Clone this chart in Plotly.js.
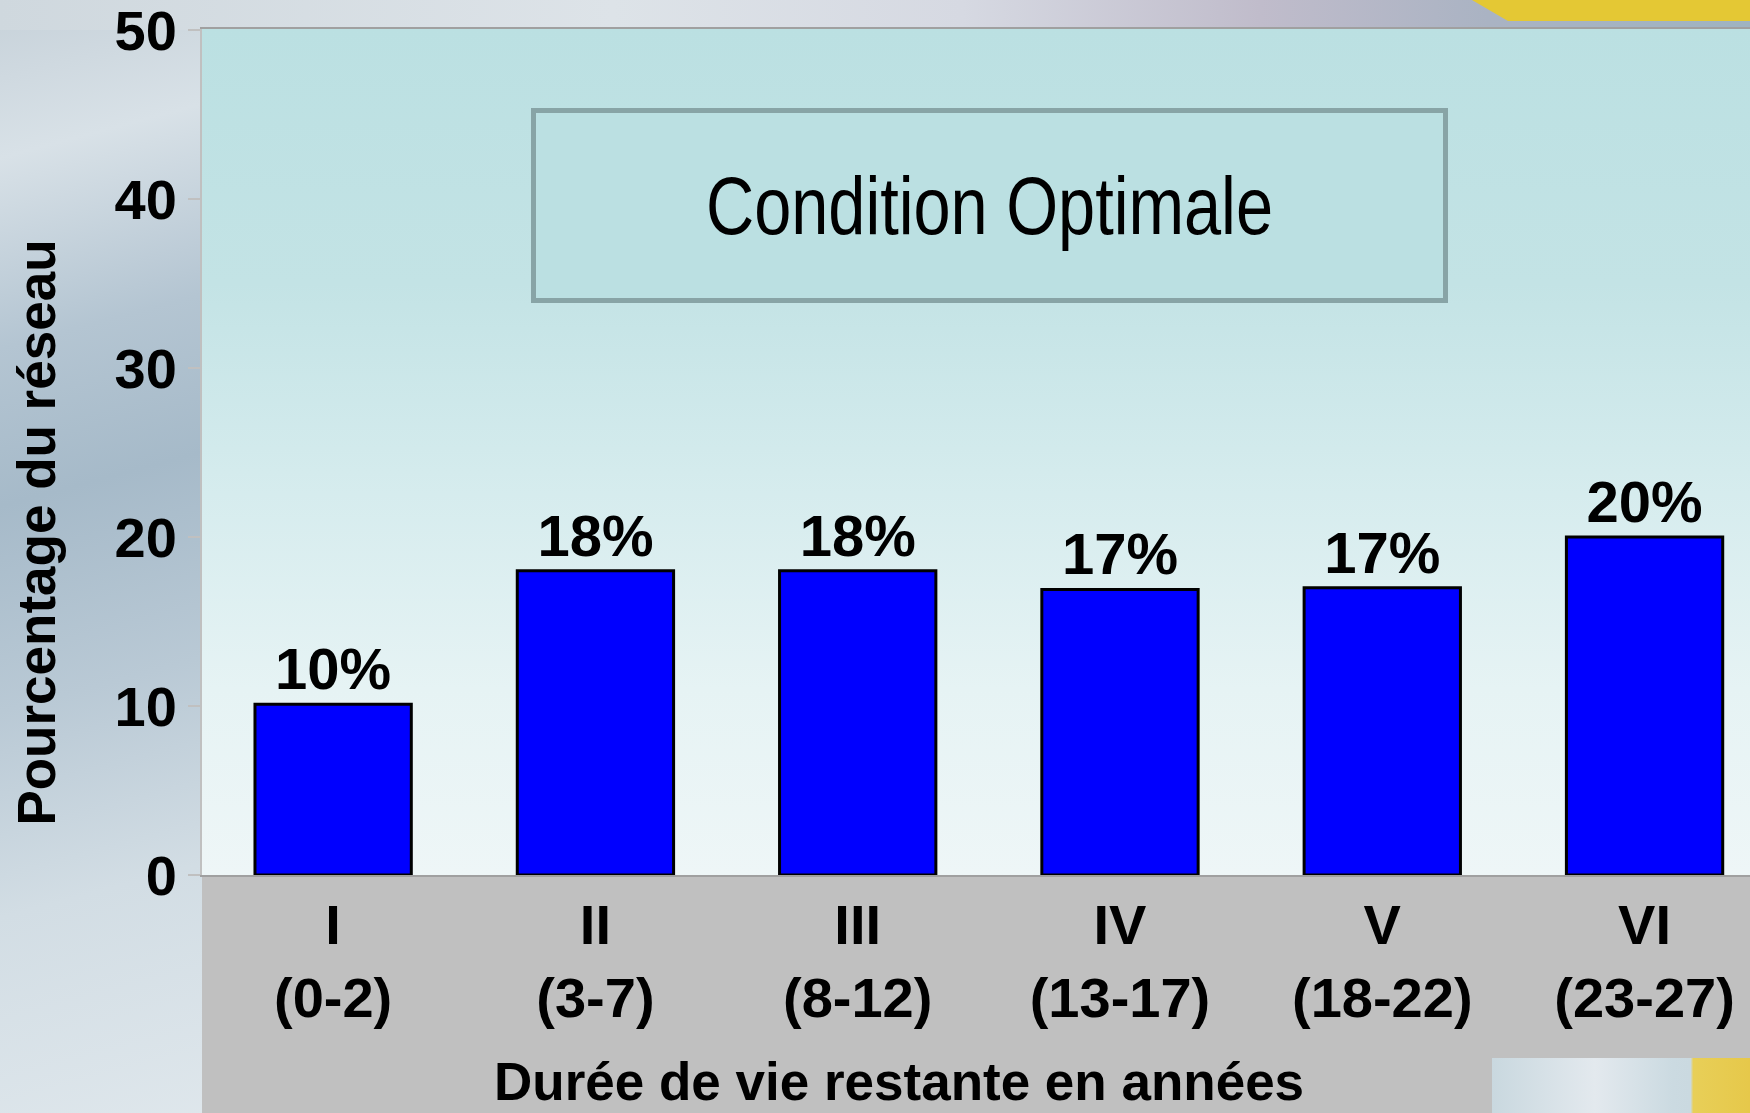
<!DOCTYPE html>
<html>
<head>
<meta charset="utf-8">
<script src="https://cdn.plot.ly/plotly-3.0.1.min.js"></script>
<style>
  html, body { margin: 0; padding: 0; }
  #wrap { position: relative; width: 1750px; height: 1113px; overflow: hidden;
    background: linear-gradient(165deg, #c6d1d9 0%, #d8e1e7 10%, #b4c5d2 22%, #a6bac9 32%, #b9c9d5 45%, #d2dde4 58%, #dfe7ec 75%, #e3eaee 100%); }
  #topstrip { position: absolute; left: 0; top: 0; width: 1750px; height: 30px;
    background: linear-gradient(to right, #cfd8de 0%, #dde3e8 35%, #d6d9e2 55%, #c0bccb 72%, #aab3c3 85%, #9fb3c0 100%); }
  #yellow { position: absolute; left: 1460px; top: 0; width: 290px; height: 21px; background: #e4c834;
    clip-path: polygon(12px 0, 290px 0, 290px 21px, 48px 21px); }
  #plotbg { position: absolute; left: 202px; top: 29px; width: 1548px; height: 846px;
    background: linear-gradient(to bottom, #bbe0e2 0%, #c3e3e5 30%, #d6ecee 55%, #e6f3f4 78%, #eef6f7 100%); }
  #band { position: absolute; left: 202px; top: 875px; width: 1548px; height: 238px; background: #c0c0c0; }
  #corner { position: absolute; left: 1492px; top: 1058px; width: 258px; height: 55px;
    background: linear-gradient(to right, #c9d8df 0%, #e3e9ee 40%, #cbdae1 70%, #cad9e0 77%, #e8cf58 78%, #e6c84a 100%); }
  #chart { position: absolute; left: 0; top: 0; width: 1750px; height: 1113px; }
</style>
</head>
<body>
<div id="wrap">
  <div id="topstrip"></div>
  <div id="yellow"></div>
  <div id="plotbg"></div>
  <div id="band"></div>
  <div id="corner"></div>
  <div id="chart"></div>
</div>
<script>
// ---- data ----
const categories = ["I", "II", "III", "IV", "V", "VI"];
const ranges = ["(0-2)", "(3-7)", "(8-12)", "(13-17)", "(18-22)", "(23-27)"];
const values = [10.1, 18, 18, 16.9, 17, 20];
const valueLabels = ["10%", "18%", "18%", "17%", "17%", "20%"];
const yTickValues = [0, 10, 20, 30, 40, 50];
const yTitle = "Pourcentage du réseau";
const xTitle = "Durée de vie restante en années";
const boxText = "Condition Optimale";

const tickText = categories.map((c, i) => c + "<br>" + ranges[i]);
const boldFont = "Liberation Sans, Arial, Helvetica, sans-serif";

const trace = {
  type: "bar",
  x: categories,
  y: values,
  text: valueLabels,
  texttemplate: "%{text}",
  textposition: "outside",
  constraintext: "none",
  cliponaxis: false,
  textfont: { family: boldFont, size: 58, color: "#000000", weight: "bold" },
  width: 0.596,
  marker: { color: "#0000ff", line: { color: "#000000", width: 3 } },
  hoverinfo: "skip"
};

const layout = {
  width: 1750,
  height: 1113,
  margin: { l: 202, r: 0, t: 29, b: 238 },
  paper_bgcolor: "rgba(0,0,0,0)",
  plot_bgcolor: "rgba(0,0,0,0)",
  showlegend: false,
  xaxis: {
    type: "category",
    range: [-0.5, 5.402],
    tickvals: categories,
    ticktext: tickText,
    ticks: "",
    showgrid: false,
    zeroline: false,
    showline: true,
    mirror: true,
    linecolor: "#a0a0a0",
    linewidth: 2,
    tickfont: { family: boldFont, size: 56, color: "#000000", weight: "bold" },
    ticklabelstandoff: 0,
    ticklabeloverflow: "allow",
    fixedrange: true
  },
  yaxis: {
    range: [0, 50.06],
    tickvals: yTickValues,
    ticks: "outside",
    ticklen: 12,
    tickwidth: 2,
    tickcolor: "#c0c0c0",
    showgrid: false,
    zeroline: false,
    showline: true,
    linecolor: "#c0c0c0",
    linewidth: 2,
    tickfont: { family: boldFont, size: 56, color: "#000000", weight: "bold" },
    ticklabelstandoff: 0,
    ticklabeloverflow: "allow",
    fixedrange: true
  },
  annotations: [
    {
      text: yTitle, textangle: -90, showarrow: false,
      xref: "paper", yref: "paper", x: -0.1066, y: 0.4047,
      xanchor: "center", yanchor: "middle",
      font: { family: boldFont, size: 53, color: "#000000", weight: "bold" }
    },
    {
      text: xTitle, showarrow: false,
      xref: "paper", yref: "paper", x: 0.4503, y: -0.2438,
      xanchor: "center", yanchor: "middle",
      font: { family: boldFont, size: 53, color: "#000000", weight: "bold" }
    },
    {
      text: boxText, showarrow: false,
      xref: "paper", yref: "paper", x: 0.509, y: 0.7917,
      xanchor: "center", yanchor: "middle",
      width: 907, height: 185, borderpad: 0, borderwidth: 5,
      bordercolor: "#88a4a6", bgcolor: "#bbe0e2",
      font: { family: "Liberation Sans Narrow, Arial Narrow, Liberation Sans, Arial, sans-serif", size: 82, color: "#000000" }
    }
  ]
};

Plotly.newPlot("chart", [trace], layout, { staticPlot: true, displayModeBar: false }).then(function (gd) {
  // the reference box text is a condensed face: compress the glyphs to its measured width
  const texts = gd.querySelectorAll(".annotation-text");
  texts.forEach(function (t) {
    if (t.textContent === boxText) {
      const w = t.getComputedTextLength();
      if (w > 580) {
        t.setAttribute("textLength", "567");
        t.setAttribute("lengthAdjust", "spacingAndGlyphs");
      }
    }
  });
});
</script>
</body>
</html>
